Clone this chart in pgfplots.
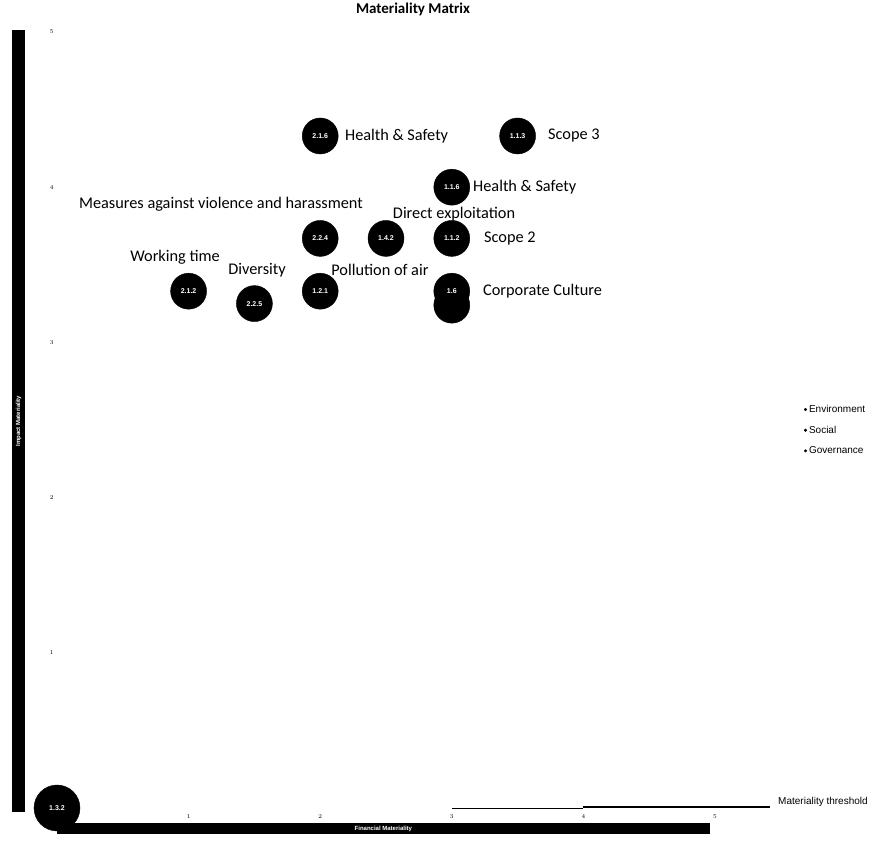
\documentclass[border=0pt]{standalone}
\usepackage{pgfplots}
\pgfplotsset{compat=1.18}
\usepackage{pgfplotstable}
\usepackage{fontspec}
\setmainfont{Carlito}
\newfontfamily\arialf{Liberation Sans}
\pgfplotstableread{
x y id
2 4.33 2.1.6
3.5 4.33 1.1.3
3 4.0 1.1.6
2 3.67 2.2.4
2.5 3.67 1.4.2
3 3.67 1.1.2
1 3.33 2.1.2
1.5 3.25 2.2.5
2 3.33 1.2.1
3 3.24 1.6
3 3.33 1.6
}\bubbles
\pgfplotstableread{
x y id
0 0 1.3.2
}\bigbubble
\begin{document}
\begin{tikzpicture}
\path[use as bounding box] (0,0) rectangle (880pt,850pt);
\begin{axis}[
  at={(57pt,42pt)}, anchor=south west,
  scale only axis, width=658pt, height=776pt,
  xmin=0, xmax=5, ymin=0, ymax=5,
  clip=false,
  axis line style={draw=none},
  tick style={draw=none},
  xtick={1,2,3,4,5}, ytick={1,2,3,4,5},
  tick label style={font=\arialf\fontsize{6.5}{6.5}\selectfont},
  xticklabel style={yshift=-3pt},
  xlabel={Financial Materiality},
  xlabel style={at={(axis description cs:0.496,-0.027)}, anchor=center, fill=black, text=white,
     minimum width=653pt, minimum height=11pt, inner sep=0pt, font=\bfseries\arialf\fontsize{6}{6}\selectfont},
  ylabel={Impact Materiality},
  ylabel style={at={(axis description cs:-0.0585,0.4987)}, anchor=center, fill=black, text=white,
     minimum width=782pt, minimum height=13pt, inner sep=0pt, font=\bfseries\arialf\fontsize{6}{6}\selectfont},
  legend style={at={(axis description cs:1.135,0.522)}, anchor=north west, draw=none, fill=none,
     font=\arialf\fontsize{10}{11}\selectfont, row sep=8pt, inner sep=0pt},
  legend cell align=left,
  legend image code/.code={\fill[black] (0.3em,0) circle (1.3pt);},
]
\addplot[only marks, mark=*, mark size=18pt, black, forget plot,
  point meta=explicit symbolic, nodes near coords,
  every node near coord/.append style={anchor=center, text=white, font=\bfseries\arialf\fontsize{7}{7}\selectfont}]
  table[x=x, y=y, meta=id] {\bubbles};
\addplot[only marks, mark=*, mark size=23pt, black, forget plot,
  point meta=explicit symbolic, nodes near coords,
  every node near coord/.append style={anchor=center, text=white, font=\bfseries\arialf\fontsize{7}{7}\selectfont}]
  table[x=x, y=y, meta=id] {\bigbubble};
\addplot[black, line width=0.8pt, forget plot] coordinates {(3,0) (4,0)};
\addplot[black, line width=1.2pt, forget plot] coordinates {(4,0.006) (5.42,0.006)};
\addlegendimage{only marks}
\addlegendentry{Environment}
\addlegendimage{only marks}
\addlegendentry{Social}
\addlegendimage{only marks}
\addlegendentry{Governance}
\node[inner sep=0pt, font=\bfseries\fontsize{15}{15}\selectfont] at (axis description cs:0.541,1.0296) {Materiality Matrix};
\begin{scope}[every node/.style={font=\fontsize{16.3}{16}\selectfont, inner sep=0pt}]
\node[anchor=west] at (axis cs:2.188,4.33) {Health \& Safety};
\node[anchor=west] at (axis cs:3.731,4.33) {Scope 3};
\node[anchor=west] at (axis cs:3.161,4.0) {Health \& Safety};
\node at (axis cs:1.246,3.892) {Measures against violence and harassment};
\node at (axis cs:3.017,3.827) {Direct exploitation};
\node[anchor=west] at (axis cs:3.245,3.67) {Scope 2};
\node at (axis cs:0.897,3.55) {Working time};
\node at (axis cs:1.52,3.467) {Diversity};
\node at (axis cs:2.454,3.467) {Pollution of air};
\node[anchor=west] at (axis cs:3.237,3.33) {Corporate Culture};
\end{scope}
\node[anchor=west, inner sep=0pt, font=\arialf\fontsize{10}{10}\selectfont] at (axis cs:5.479,0.039) {Materiality threshold};
\end{axis}
\end{tikzpicture}
\end{document}
